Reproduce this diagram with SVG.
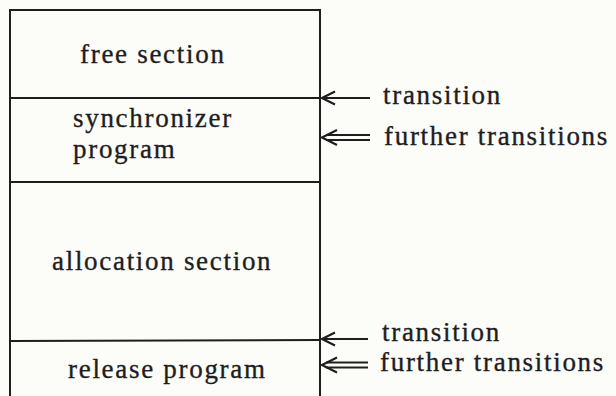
<svg xmlns="http://www.w3.org/2000/svg" width="616" height="396" viewBox="0 0 616 396">
<style>
.t{font-family:"Liberation Serif","Times New Roman",serif;font-size:27px;letter-spacing:1.7px;fill:#1e1e1e;stroke:#1e1e1e;stroke-width:0.35}
.ln{stroke:#1e1e1e;stroke-width:2;fill:none}
.ar{stroke:#1e1e1e;stroke-width:2.2;fill:none;stroke-linejoin:miter}
</style>
<rect width="616" height="396" fill="#fcfcf9"/>
<g id="frame">
<path class="ln" d="M10,397 V10 H320 V397"/>
</g>
<g id="free-section">
<text class="t" x="80" y="63">free section</text>
</g>
<g id="synchronizer-program">
<line class="ln" x1="10" y1="98" x2="320" y2="98"/>
<text class="t" x="73" y="127">synchronizer</text>
<text class="t" x="73" y="158">program</text>
</g>
<g id="allocation-section">
<line class="ln" x1="10" y1="182" x2="320" y2="182"/>
<text class="t" x="52" y="270">allocation section</text>
</g>
<g id="release-program">
<line class="ln" x1="10" y1="341" x2="320" y2="340"/>
<text class="t" x="68" y="378">release program</text>
</g>
<g id="connectors">
<line class="ar" x1="322" y1="98" x2="370" y2="98"/>
<path class="ar" d="M335,91.5 L322,98 L335,104.5"/>
<line class="ar" x1="326" y1="135" x2="370" y2="135"/>
<line class="ar" x1="326" y1="140" x2="370" y2="140"/>
<path class="ar" d="M337,130 L322,137.5 L337,145"/>
<line class="ar" x1="322" y1="339" x2="368" y2="339"/>
<path class="ar" d="M335,332.5 L322,339 L335,345.5"/>
<line class="ar" x1="326" y1="362.5" x2="368" y2="362.5"/>
<line class="ar" x1="326" y1="367.5" x2="368" y2="367.5"/>
<path class="ar" d="M337,357.5 L322,365 L337,372.5"/>
</g>
<g id="labels">
<text class="t" x="383" y="104">transition</text>
<text class="t" x="384" y="145">further transitions</text>
<text class="t" x="382" y="341">transition</text>
<text class="t" x="380" y="371">further transitions</text>
</g>
</svg>
